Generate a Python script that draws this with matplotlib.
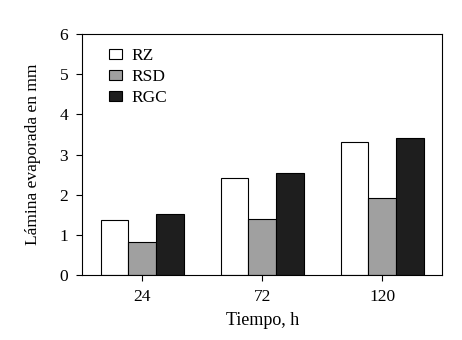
import numpy as np
import matplotlib.pyplot as plt

plt.rcParams['font.family'] = ['Liberation Serif', 'DejaVu Serif']

tiempos = ['24', '72', '120']
series = ['RZ', 'RSD', 'RGC']
rz = [1.38, 2.41, 3.32]
rsd = [0.82, 1.41, 1.93]
rgc = [1.52, 2.55, 3.42]
colores = ['white', '#a0a0a0', '#1e1e1e']

fig = plt.figure(figsize=(4.62, 3.4), dpi=100)
ax = fig.add_axes([0.1775, 0.19, 0.78, 0.71])

x = np.arange(len(tiempos))
w = 0.23
for i, (vals, nombre) in enumerate(zip([rz, rsd, rgc], series)):
    ax.bar(x + (i - 1) * w, vals, w, color=colores[i], edgecolor='black',
           linewidth=0.8, label=nombre)

ax.set_xlim(-0.5, 2.5)
ax.set_ylim(0, 6)
ax.set_xticks(x)
ax.set_xticklabels(tiempos)
ax.set_yticks(range(7))
ax.tick_params(direction='out', length=4, width=0.8, labelsize=12.5, pad=6)
for s in ax.spines.values():
    s.set_linewidth(0.8)
ax.set_xlabel('Tiempo, h', fontsize=13, labelpad=5)
ax.set_ylabel('Lámina evaporada en mm', fontsize=12.5, labelpad=13)

leg = ax.legend(loc='upper left', frameon=False, fontsize=12.5,
                handlelength=0.75, handleheight=0.55, handletextpad=0.6,
                labelspacing=0.3, borderaxespad=0.4, bbox_to_anchor=(0.035, 1.0))

fig.savefig('out.png', dpi=100)
